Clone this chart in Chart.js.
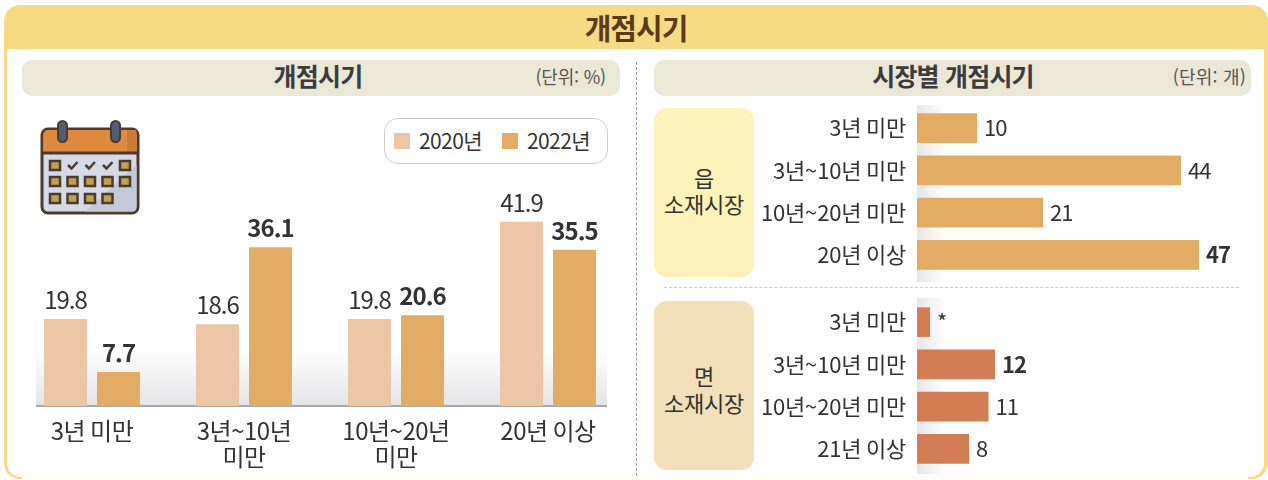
<!DOCTYPE html>
<html lang="ko"><head><meta charset="utf-8">
<script src="https://cdn.jsdelivr.net/npm/chart.js@4"></script>
<style>
html,body{margin:0;padding:0;background:#fff;width:1268px;height:480px;overflow:hidden}
body{position:relative;font-family:"Noto Sans CJK KR","Noto Sans",sans-serif;color:#333}
.a{position:absolute}
.t{position:absolute;white-space:nowrap;line-height:1}
canvas{position:absolute}
</style></head><body>
<div class="a" style="left:4px;top:5px;width:1264px;height:474px;background:#F5DC82;border-radius:16px"></div>
<div class="a" style="left:7px;top:49px;width:1257px;height:428px;background:#fff;border-radius:0 0 14px 14px"></div>
<div class="a" style="left:22px;top:474px;width:1226px;height:6px;background:#FFFEF6"></div>
<div class="t" style="left:4px;width:1264px;top:13px;text-align:center;font-size:29px;font-weight:700;color:#5B3A18;letter-spacing:-1px">개점시기</div>

<div class="a" style="left:22px;top:60px;width:598px;height:36px;background:#ECE8D6;border-radius:10px"></div>
<div class="t" style="left:218px;width:200px;top:63px;text-align:center;font-size:25px;font-weight:700;color:#3c3c3c;letter-spacing:-.8px">개점시기</div>
<div class="t" style="right:662px;top:67px;font-size:18px;color:#555;letter-spacing:-.2px">(단위: %)</div>

<div class="a" style="left:654px;top:60px;width:597px;height:36px;background:#ECE8D6;border-radius:10px"></div>
<div class="t" style="left:803px;width:300px;top:63px;text-align:center;font-size:25px;font-weight:700;color:#3c3c3c;letter-spacing:-.8px">시장별 개점시기</div>
<div class="t" style="right:22px;top:67px;font-size:18px;color:#555;letter-spacing:.2px">(단위: 개)</div>

<div class="a" style="left:636px;top:62px;height:414px;width:0;border-left:1px dashed #999"></div>
<div class="a" style="left:664px;top:287px;width:575px;height:0;border-top:1px dashed #ccc"></div>

<svg class="a" style="left:38px;top:118px" width="104" height="100" viewBox="38 118 104 100">
<rect x="42" y="129" width="96" height="84" rx="6" fill="#D5DAE6" stroke="#4E3A2C" stroke-width="3"/>
<path d="M136.500 165 L136.500 207 Q136.500 211.500 132 211.500 L85 211.500 Z" fill="#C3C9D8"/>
<path d="M43.500 153 L43.500 135 Q43.500 130 49 130 L131 130 Q136.500 130 136.500 135 L136.500 153 Z" fill="#DE893C"/>
<rect x="127" y="130" width="9.500" height="23" fill="#CC7A35"/>
<line x1="42" y1="153" x2="138" y2="153" stroke="#4E3A2C" stroke-width="3"/>
<g fill="#4D5F78" stroke="#4E3A2C" stroke-width="2">
<rect x="58" y="121" width="9" height="21" rx="4.500"/><rect x="111" y="121" width="9" height="21" rx="4.500"/></g>
<g fill="#BFA24C" stroke="#4E3A2C" stroke-width="2.500">
<rect x="50" y="161" width="10" height="9"/><rect x="120" y="161" width="10" height="9"/>
<rect x="50" y="177" width="10" height="9"/><rect x="67.500" y="177" width="10" height="9"/><rect x="85" y="177" width="10" height="9"/><rect x="102.500" y="177" width="10" height="9"/><rect x="120" y="177" width="10" height="9"/>
<rect x="50" y="194" width="10" height="9"/><rect x="67.500" y="194" width="10" height="9"/><rect x="85" y="194" width="10" height="9"/><rect x="102.500" y="194" width="10" height="9"/></g>
<g fill="none" stroke="#4E3A2C" stroke-width="2.500"><path d="M68 165 l3.500 3.500 l6 -6.500"/><path d="M85.500 165 l3.500 3.500 l6 -6.500"/><path d="M103 165 l3.500 3.500 l6 -6.500"/></g>
</svg>

<div class="a" style="left:384px;top:118px;width:222px;height:44px;border:1px solid #ccc;border-radius:14px;background:#fff"></div>
<div class="a" style="left:394px;top:133px;width:16px;height:16px;background:#EDC6A6"></div>
<div class="t" id="lg0" style="left:419px;top:130px;font-size:21px;letter-spacing:-.6px"></div>
<div class="a" style="left:502px;top:133px;width:16px;height:16px;background:#E3AC65"></div>
<div class="t" id="lg1" style="left:527px;top:130px;font-size:21px;letter-spacing:-.6px"></div>

<div class="a" style="left:36px;top:350px;width:571px;height:56px;background:linear-gradient(to bottom,rgba(228,228,230,0),#E4E4E6)"></div>
<div class="a" style="left:36px;top:405px;width:571px;height:2px;background:#A8A8A8"></div>

<div class="a" style="left:654px;top:108px;width:100px;height:169px;background:#FDF2B9;border-radius:13px"></div>
<div class="t" style="left:654px;width:100px;top:164px;text-align:center;font-size:22px;line-height:26px;letter-spacing:-.3px;white-space:pre-line">읍
소재시장</div>
<div class="a" style="left:654px;top:301px;width:100px;height:169px;background:#F4DFBB;border-radius:13px"></div>
<div class="t" style="left:654px;width:100px;top:362px;text-align:center;font-size:22px;line-height:27px;letter-spacing:-.3px;white-space:pre-line">면
소재시장</div>
<div class="a" style="left:917px;top:105px;width:28px;height:177px;background:linear-gradient(to right,#E6E6E8,rgba(230,230,232,0))"></div>
<div class="a" style="left:917px;top:298px;width:28px;height:176px;background:linear-gradient(to right,#E6E6E8,rgba(230,230,232,0))"></div>

<canvas id="c1" width="608" height="290" style="left:16px;top:186px"></canvas>
<canvas id="c2" width="497" height="169" style="left:750px;top:107px"></canvas>
<canvas id="c3" width="492" height="169" style="left:750px;top:301px"></canvas>

<script>
const periodCats = [['3년 미만'], ['3년~10년','미만'], ['10년~20년','미만'], ['20년 이상']];
const seriesNames = ['2020년', '2022년'];
const values2020 = [19.8, 18.6, 19.8, 41.9];
const values2022 = [7.7, 36.1, 20.6, 35.5];
const marketCatsEup = ['3년 미만', '3년~10년 미만', '10년~20년 미만', '20년 이상'];
const valuesEup = [10, 44, 21, 47];
const labelsEup = ['10', '44', '21', '47'];
const boldEup = [false, false, false, true];
const marketCatsMyeon = ['3년 미만', '3년~10년 미만', '10년~20년 미만', '21년 이상'];
const valuesMyeon = [2, 12, 11, 8];
const labelsMyeon = ['*', '12', '11', '8'];
const boldMyeon = [false, true, false, false];

document.getElementById('lg0').textContent = seriesNames[0];
document.getElementById('lg1').textContent = seriesNames[1];
const FONT = '"Noto Sans CJK KR","Noto Sans",sans-serif';
const TXT = '#333333';

const valueLabels = {
  id: 'valueLabels',
  beforeDraw(chart, args, opts){ chart.ctx.letterSpacing = opts.tickSpacing; },
  afterDatasetsDraw(chart, args, opts){
    const ctx = chart.ctx;
    ctx.save();
    ctx.letterSpacing = '-1px';
    ctx.fillStyle = TXT;
    chart.data.datasets.forEach((ds, di) => {
      chart.getDatasetMeta(di).data.forEach((el, i) => {
        const bold = ds.boldFlags[i];
        ctx.font = (bold ? '700 ' : '400 ') + opts.size + 'px ' + FONT;
        if (opts.horizontal) {
          ctx.textAlign = 'left'; ctx.textBaseline = 'middle';
          ctx.fillText(ds.texts[i], el.x + 7, el.y);
        } else {
          ctx.textAlign = 'center'; ctx.textBaseline = 'middle';
          ctx.fillText(ds.texts[i], el.x, el.y - 19);
        }
      });
    });
    ctx.restore();
  }
};

new Chart(document.getElementById('c1'), {
  type: 'bar',
  plugins: [valueLabels],
  data: { labels: periodCats, datasets: [
    { label: seriesNames[0], data: values2020, backgroundColor: '#EDC6A6',
      texts: values2020.map(String), boldFlags: [false,false,false,false],
      categoryPercentage: 0.697, barPercentage: 0.811 },
    { label: seriesNames[1], data: values2022, backgroundColor: '#E3AC65',
      texts: values2022.map(String), boldFlags: [true,true,true,true],
      categoryPercentage: 0.697, barPercentage: 0.811 }
  ]},
  options: {
    responsive: false, animation: false, devicePixelRatio: 1,
    layout: { padding: 0 },
    plugins: { legend: { display: false }, tooltip: { enabled: false }, valueLabels: { size: 24, tickSpacing: '-0.5px' } },
    scales: {
      x: { grid: { display: false, drawTicks: false }, border: { display: false },
           afterFit(s){ s.height = 70; },
           ticks: { color: TXT, font: { size: 24, family: FONT, lineHeight: 1.12 }, padding: 11, maxRotation: 0, autoSkip: false } },
      y: { display: false, min: 0, max: 50 }
    }
  }
});

function hbar(id, cats, vals, texts, bolds, color, max){
  new Chart(document.getElementById(id), {
    type: 'bar',
    plugins: [valueLabels],
    data: { labels: cats, datasets: [{ data: vals, backgroundColor: color, texts: texts, boldFlags: bolds,
      categoryPercentage: 1, barPercentage: 0.7 }]},
    options: {
      indexAxis: 'y', responsive: false, animation: false, devicePixelRatio: 1,
      layout: { padding: 0 },
      plugins: { legend: { display: false }, tooltip: { enabled: false }, valueLabels: { size: 22, horizontal: true, tickSpacing: '-0.2px' } },
      scales: {
        x: { display: false, min: 0, max: max },
        y: { grid: { display: false, drawTicks: false }, border: { display: false },
             afterFit(s){ s.width = 167; s.paddingTop = 0; s.paddingBottom = 0; },
             ticks: { color: TXT, font: { size: 22, family: FONT }, padding: 11, autoSkip: false } }
      }
    }
  });
}
hbar('c2', marketCatsEup, valuesEup, labelsEup, boldEup, '#E3AC65', 55);
hbar('c3', marketCatsMyeon, valuesMyeon, labelsMyeon, boldMyeon, '#D37D55', 50);
</script>
</body></html>
